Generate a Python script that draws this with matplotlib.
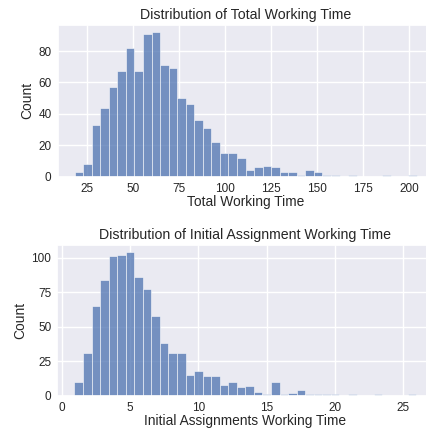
import numpy as np
import matplotlib
matplotlib.use("Agg")
import matplotlib.pyplot as plt
from matplotlib.ticker import MultipleLocator
import seaborn as sns

# histogram counts (40 bins each)
total_counts = [3, 8, 33, 44, 57, 67, 82, 67, 91, 92,
                71, 69, 50, 46, 36, 31, 22, 15, 15, 12,
                4, 6, 7, 6, 3, 3, 1, 4, 3, 1,
                1, 0, 1, 0, 0, 0, 1, 0, 0, 1]
total_range = (18.0, 204.0)

initial_counts = [10, 31, 65, 84, 101, 102, 104, 86, 77, 58,
                  38, 31, 31, 15, 18, 14, 14, 8, 10, 6,
                  7, 3, 1, 10, 1, 2, 4, 1, 1, 1,
                  1, 0, 1, 0, 0, 1, 0, 0, 0, 1]
initial_range = (0.92, 25.97)

sns.set_theme(style="darkgrid")
plt.rcParams["font.family"] = ["Liberation Sans", "DejaVu Sans"]

BAR_COLOR = "#4c72b0"


def draw_hist(ax, counts, rng, title, xlabel, xstep, ystep):
    edges = np.linspace(rng[0], rng[1], len(counts) + 1)
    ax.bar(edges[:-1], counts, width=np.diff(edges), align="edge",
           color=BAR_COLOR, alpha=0.75, edgecolor="white", linewidth=0.5)
    ax.set_title(title, fontsize=10.2, pad=4.5)
    ax.set_xlabel(xlabel, fontsize=9.9, labelpad=0.5)
    ax.set_ylabel("Count", fontsize=9.9, labelpad=3)
    ax.xaxis.set_major_locator(MultipleLocator(xstep))
    ax.yaxis.set_major_locator(MultipleLocator(ystep))
    ax.tick_params(labelsize=8.5, length=0, pad=4.3)


fig = plt.figure(figsize=(4.27, 4.34), dpi=100)
ax1 = fig.add_axes([0.1347, 0.5929, 0.8808, 0.3495])
ax2 = fig.add_axes([0.1342, 0.0882, 0.881, 0.3472])

draw_hist(ax1, total_counts, total_range,
          "Distribution of Total Working Time", "Total Working Time", 25, 20)
draw_hist(ax2, initial_counts, initial_range,
          "Distribution of Initial Assignment Working Time",
          "Initial Assignments Working Time", 5, 25)

fig.savefig("out.png", dpi=100)
